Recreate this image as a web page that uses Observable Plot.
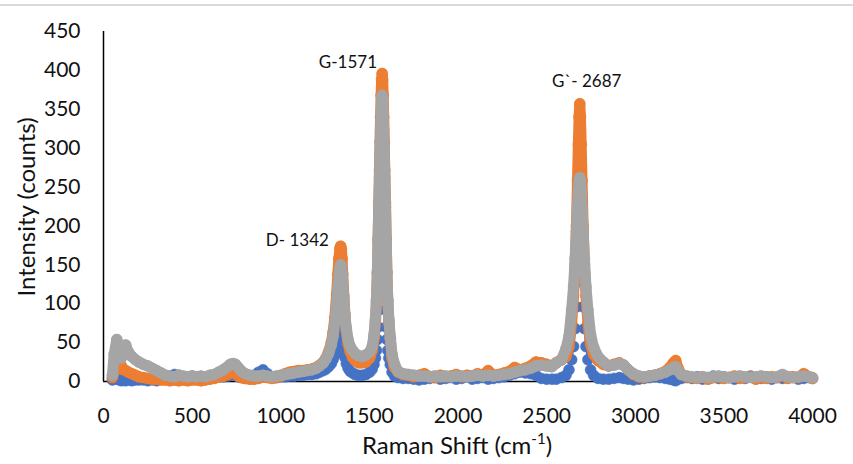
<!DOCTYPE html>
<html>
<head>
<meta charset="utf-8">
<script src="https://cdn.jsdelivr.net/npm/d3@7"></script>
<script src="https://cdn.jsdelivr.net/npm/@observablehq/plot@0.6"></script>
<style>
  html, body { margin: 0; padding: 0; background: #fff; }
  #wrap { position: relative; width: 853px; height: 464px; overflow: hidden; }
  #topline { position: absolute; left: 0; top: 4px; width: 853px; height: 2px; background: #d9d9d9; }
  svg { display: block; }
</style>
</head>
<body>
<div id="wrap"><div id="topline"></div></div>
<script>
// Raman shift (cm-1) sample positions
const shift = [
  50,60,75,90,100,110,125,140,160,180,200,
  225,250,275,300,325,350,375,400,425,450,475,500,525,550,575,600,625,650,
  675,700,715,730,745,760,780,800,825,850,875,900,925,950,975,1000,
  1025,1050,1075,1100,1125,1150,1175,1200,1220,1240,1255,1270,1285,1295,1305,1315,1322,1328,1334,1338,1342,1346,1350,1356,1362,1370,1380,1392,1405,1420,1440,
  1460,1480,1502,1516,1526,1534,1540,1545,1549,1553,1557,1560,1563,1566,1569,1572,1575,1578,1581,1584,1587,1591,1595,1599,1604,1610,1618,1628,1642,1662,1690,1720,
  1750,1780,1810,1840,1870,1900,1930,1960,1990,2020,2050,2080,2110,2140,2170,2200,2230,2260,2290,2320,2350,2380,2410,2440,2470,2500,2530,2554,2584,
  2609,2626,2641,2652,2661,2668,2674,2679,2683,2687,2691,2695,2700,2706,2713,2722,2733,2748,2765,2790,2820,
  2850,2880,2910,2935,2960,2990,3020,3050,3080,3110,3140,3170,3195,3215,3228,3240,3260,3290,
  3320,3350,3380,3410,3440,3470,3500,3530,3560,3590,3620,3650,3680,3710,3740,3770,3800,3830,3860,3890,3920,3950,3980,4000
];
// Intensity (counts) — series 1 (blue)
const blueCounts = [
  2,4,3,2,1,2,1,2,1,2,2,
  2,1,2,1,3,5,7,9,8,6,5,7,5,6,4,6,5,6,
  6,7,8,9,8,6,5,4,5,8,12,15,10,6,5,6,
  6,7,7,8,8,9,9,10,12,14,16,19,23,28,34,42,52,60,65,66,64,58,50,40,31,23,17,13,11,9,8,
  8,9,12,16,22,30,40,54,70,92,118,142,168,192,210,218,210,192,168,142,118,92,70,54,40,30,22,12,7,5,4,4,
  3,2,3,4,5,3,4,5,3,4,6,3,4,5,3,4,5,6,8,10,12,11,10,8,4,3,3,3,5,
  8,15,28,45,68,96,128,156,174,181,174,156,128,96,68,45,28,15,8,4,3,
  3,4,5,4,3,2,3,4,5,6,5,4,3,2,1,3,4,5,
  4,6,3,5,7,4,6,5,3,6,4,7,5,4,6,3,5,4,6,5,3,4,5,4
];
// Intensity (counts) — series 2 (orange)
const orangeCounts = [
  5,12,18,24,20,16,14,12,10,8,6,
  5,4,3,3,2,2,1,2,1,2,1,2,2,1,2,3,4,6,
  7,9,11,12,10,7,5,4,3,3,4,6,5,4,5,7,
  10,12,13,14,14,15,16,18,21,25,30,38,50,63,82,112,138,158,171,174,170,158,138,110,86,64,48,38,31,27,24,
  24,25,30,40,55,76,103,140,183,230,272,308,340,368,388,396,388,368,340,308,272,230,183,140,103,76,55,30,18,12,9,8,
  6,8,10,6,5,8,6,7,9,6,8,7,10,8,14,8,9,11,13,18,15,17,20,25,24,22,20,24,28,
  32,45,75,110,150,200,258,305,340,357,340,305,258,200,150,110,75,48,35,27,22,
  20,22,24,21,15,9,6,5,7,8,10,13,18,24,27,18,9,6,
  5,4,6,3,5,6,4,5,7,4,5,6,3,5,4,6,5,8,4,6,5,10,6,4
];
// Intensity (counts) — series 3 (gray)
const grayCounts = [
  8,35,54,42,30,40,47,38,32,28,25,
  22,20,17,14,11,8,7,6,8,7,6,7,6,7,6,8,9,12,
  15,19,22,23,22,18,13,10,8,7,7,8,7,6,7,8,
  9,10,11,12,13,14,15,17,20,24,29,36,47,58,75,100,120,135,146,150,148,140,126,105,86,68,54,45,40,36,33,
  32,34,38,45,60,80,105,140,180,225,262,295,322,345,362,368,362,345,322,295,262,225,180,140,105,80,56,35,22,13,10,9,
  8,7,7,6,7,6,7,6,7,7,6,7,8,7,8,7,8,9,10,12,14,15,17,20,21,20,19,24,28,
  42,58,92,122,158,193,224,246,258,262,258,246,224,193,158,122,92,60,44,32,25,
  20,21,23,21,15,10,7,6,7,8,10,12,15,18,19,14,9,7,
  6,5,6,5,6,7,6,5,6,7,6,5,6,7,6,5,6,9,6,5,6,7,6,5
];
const xTicks = [0, 500, 1000, 1500, 2000, 2500, 3000, 3500, 4000];
const yTicks = [0, 50, 100, 150, 200, 250, 300, 350, 400, 450];
const peakNames = ["D- 1342", "G-1571", "G`- 2687"];
const peakShift = [1342, 1571, 2687];
const peakTop = [174, 396, 357];

const seriesColors = ["#4472C4", "#ED7D31", "#A5A5A5"];
const seriesValues = [blueCounts, orangeCounts, grayCounts];
const n = Math.min(shift.length, blueCounts.length, orangeCounts.length, grayCounts.length);
const seriesData = seriesValues.map(vals => d3.range(n).map(i => ({x: shift[i], y: vals[i]})));

// dense marker trail: orange and gray markers overlap into solid bands
const markerR = 5.5;
const seriesMarks = seriesData.flatMap((data, k) => [
  Plot.line(data, {
    x: "x", y: "y", stroke: seriesColors[k],
    strokeWidth: k === 0 ? 2 : markerR * 2,
    strokeLinejoin: "round", strokeLinecap: "round"
  }),
  Plot.dot(data, {x: "x", y: "y", r: markerR, fill: seriesColors[k], stroke: seriesColors[k], strokeWidth: 0.5})
]);

const labelOffsets = [[-44, -6], [-34, -11], [7, -22]];
const labelMarks = peakNames.map((name, i) =>
  Plot.text([{x: peakShift[i], y: peakTop[i], t: name}], {
    x: "x", y: "y", text: "t", dx: labelOffsets[i][0], dy: labelOffsets[i][1],
    fontSize: 17, fill: "#111", textAnchor: "middle"
  })
);

const chart = Plot.plot({
  width: 853,
  height: 464,
  marginLeft: 103,
  marginRight: 41,
  marginTop: 31,
  marginBottom: 83,
  style: {fontFamily: "Lato", fontSize: "21px", color: "#111", background: "transparent", overflow: "visible"},
  x: {domain: [0, 4000], ticks: xTicks, tickSize: 0, tickPadding: 27, tickFormat: d => String(d), label: null},
  y: {domain: [0, 450], ticks: yTicks, tickSize: 0, tickPadding: 23, tickFormat: d => String(d), label: null},
  marks: [
    Plot.ruleY([0], {stroke: "#000", strokeWidth: 1.5}),
    Plot.ruleX([0], {stroke: "#000", strokeWidth: 1.5}),
    ...seriesMarks,
    ...labelMarks
  ]
});

const svg = d3.select(chart);
svg.append("text")
  .attr("transform", "translate(25,207) rotate(-90)")
  .attr("text-anchor", "middle")
  .attr("dominant-baseline", "central")
  .style("font-family", "Lato").style("font-size", "24px").attr("fill", "#111")
  .text("Intensity (counts)");
const xt = svg.append("text")
  .attr("x", 457).attr("y", 454)
  .attr("text-anchor", "middle")
  .style("font-family", "Lato").style("font-size", "24px").attr("fill", "#111");
xt.append("tspan").text("Raman Shift (cm");
xt.append("tspan").attr("dy", -10).style("font-size", "15px").text("-1");
xt.append("tspan").attr("dy", 10).text(")");

document.getElementById("wrap").appendChild(chart);
</script>
</body>
</html>
